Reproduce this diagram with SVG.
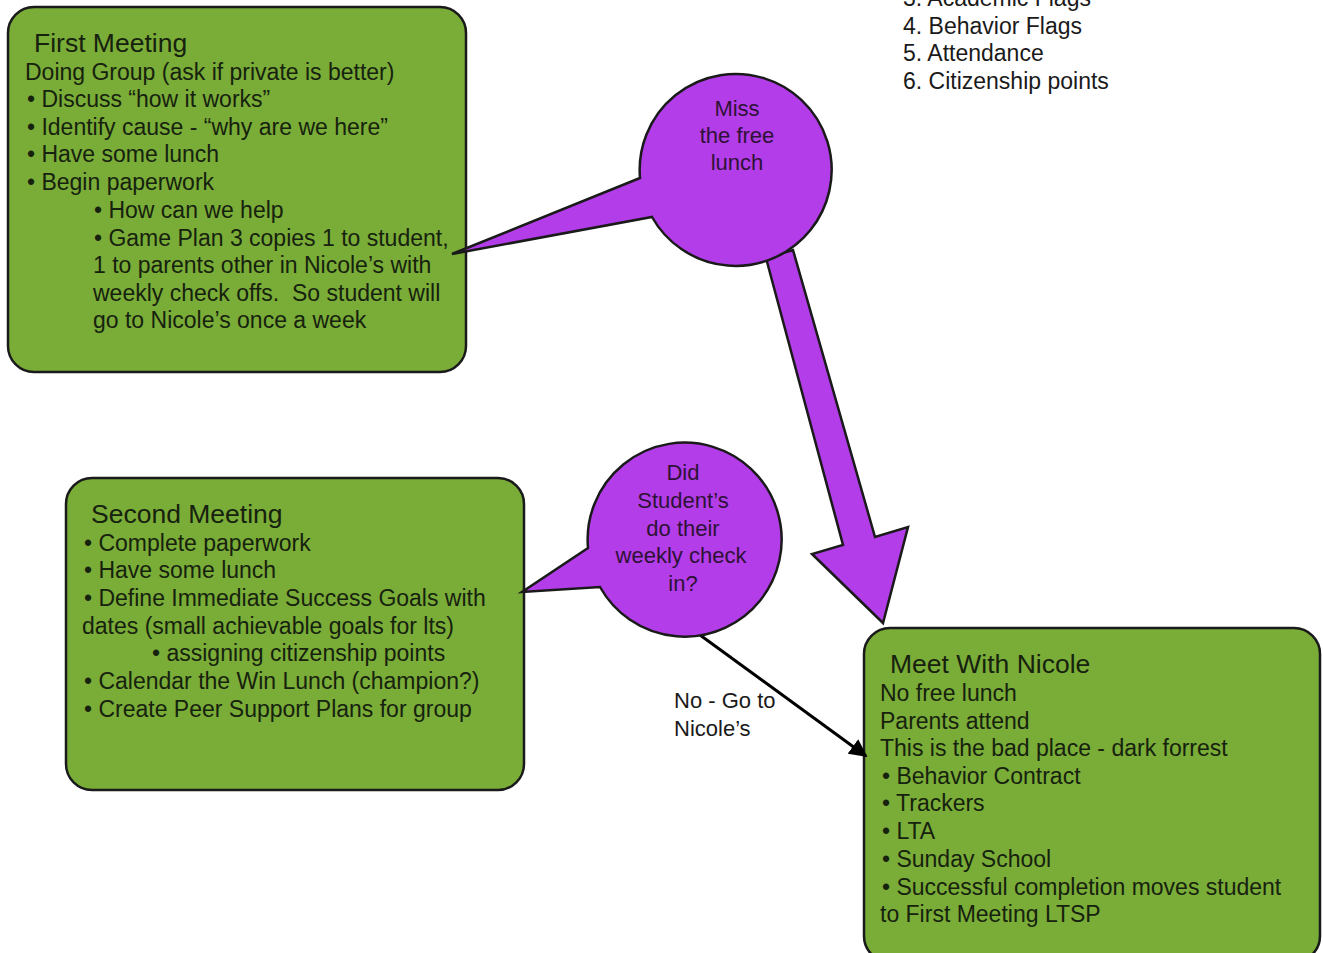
<svg xmlns="http://www.w3.org/2000/svg" width="1323" height="953" viewBox="0 0 1323 953">
<defs>
<style>
.box{fill:#7aac38;stroke:#1a1a1a;stroke-width:2.5}
.bub{fill:#b33de8;stroke:#1a1a1a;stroke-width:2.5;stroke-linejoin:miter}
text{font-family:"Liberation Sans",Arial,sans-serif}
.t{font-size:23px;fill:#16220e}
.h{font-size:26.5px;fill:#16220e}
.p{font-size:22px;fill:#2e1236;text-anchor:middle}
.n{font-size:22px;fill:#1a1a1a}
.l{font-size:23px;fill:#1a1a1a}
.conn{stroke:#000;stroke-width:3;fill:none}
</style>
<marker id="ah" viewBox="0 0 10 10" refX="9" refY="5" markerWidth="6" markerHeight="6" markerUnits="strokeWidth" orient="auto">
<path d="M0,0 L10,5 L0,10 Z" fill="#000"/>
</marker>
</defs>
<rect width="1323" height="953" fill="#fff"/>

<g id="list">
<text class="l" x="903" y="6">3. Academic Flags</text>
<text class="l" x="903" y="34">4. Behavior Flags</text>
<text class="l" x="903" y="61">5. Attendance</text>
<text class="l" x="903" y="89">6. Citizenship points</text>
</g>

<g id="first-meeting">
<rect class="box" x="8" y="7" width="458" height="365" rx="26"/>
<text class="h" x="34" y="52">First Meeting</text>
<text class="t" x="25" y="80">Doing Group (ask if private is better)</text>
<text class="t" x="27" y="107">• Discuss “how it works”</text>
<text class="t" x="27" y="135">• Identify cause - “why are we here”</text>
<text class="t" x="27" y="162">• Have some lunch</text>
<text class="t" x="27" y="190">• Begin paperwork</text>
<text class="t" x="94" y="218">• How can we help</text>
<text class="t" x="94" y="246">• Game Plan 3 copies 1 to student,</text>
<text class="t" x="93" y="273">1 to parents other in Nicole’s with</text>
<text class="t" x="93" y="301">weekly check offs.&#160; So student will</text>
<text class="t" x="93" y="328">go to Nicole’s once a week</text>
</g>

<g id="second-meeting">
<rect class="box" x="66" y="478" width="458" height="312" rx="26"/>
<text class="h" x="91" y="523">Second Meeting</text>
<text class="t" x="84" y="551">• Complete paperwork</text>
<text class="t" x="84" y="578">• Have some lunch</text>
<text class="t" x="84" y="606">• Define Immediate Success Goals with</text>
<text class="t" x="82" y="634">dates (small achievable goals for lts)</text>
<text class="t" x="152" y="661">• assigning citizenship points</text>
<text class="t" x="84" y="689">• Calendar the Win Lunch (champion?)</text>
<text class="t" x="84" y="717">• Create Peer Support Plans for group</text>
</g>

<g id="meet-nicole">
<rect class="box" x="864" y="628" width="456" height="334" rx="26"/>
<text class="h" x="890" y="673">Meet With Nicole</text>
<text class="t" x="880" y="701">No free lunch</text>
<text class="t" x="880" y="729">Parents attend</text>
<text class="t" x="880" y="756">This is the bad place - dark forrest</text>
<text class="t" x="882" y="784">• Behavior Contract</text>
<text class="t" x="882" y="811">• Trackers</text>
<text class="t" x="882" y="839">• LTA</text>
<text class="t" x="882" y="867">• Sunday School</text>
<text class="t" x="882" y="895">• Successful completion moves student</text>
<text class="t" x="880" y="922">to First Meeting LTSP</text>
</g>

<g id="connectors">
<path class="bub" d="M766,258 L843,545 L812,554 L883,623 L908,527 L875,537 L793,250 Z"/>
<line class="conn" x1="700" y1="635" x2="866" y2="756" marker-end="url(#ah)"/>
</g>

<g id="miss-lunch">
<path class="bub" d="M640,178 L452,254 L652,217 A96,96 0 1 0 640,178 Z"/>
<text class="p" x="737" y="116">Miss</text>
<text class="p" x="737" y="143">the free</text>
<text class="p" x="737" y="170">lunch</text>
</g>

<g id="check-in">
<path class="bub" d="M588,548 L522,592 L600,587 A97,97 0 1 0 588,548 Z"/>
<text class="p" x="683" y="480">Did</text>
<text class="p" x="683" y="508">Student’s</text>
<text class="p" x="683" y="536">do their</text>
<text class="p" x="681" y="563">weekly check</text>
<text class="p" x="683" y="591">in?</text>
</g>

<g id="no-label">
<text class="n" x="674" y="708">No - Go to</text>
<text class="n" x="674" y="736">Nicole’s</text>
</g>
</svg>
